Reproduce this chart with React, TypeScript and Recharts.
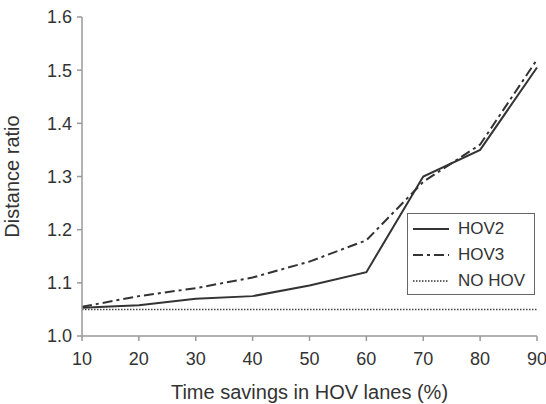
import { LineChart, Line, XAxis, YAxis, Legend } from "recharts";

const savings = [10, 20, 30, 40, 50, 60, 70, 80, 90];
const hov2 = [1.053, 1.058, 1.07, 1.075, 1.095, 1.12, 1.3, 1.35, 1.505];
const hov3 = [1.055, 1.075, 1.09, 1.11, 1.14, 1.18, 1.29, 1.36, 1.52];
const noHov = [1.05, 1.05, 1.05, 1.05, 1.05, 1.05, 1.05, 1.05, 1.05];
const xTicks = [10, 20, 30, 40, 50, 60, 70, 80, 90];
const yTicks = [1.0, 1.1, 1.2, 1.3, 1.4, 1.5, 1.6];

const data = savings.map((s, i) => ({
	savings: s,
	hov2: hov2[i],
	hov3: hov3[i],
	noHov: noHov[i],
}));

const legendItems = [
	{ name: "HOV2", dash: undefined, width: 2 },
	{ name: "HOV3", dash: "10 4 3 4", width: 2 },
	{ name: "NO HOV", dash: "1.5 1.5", width: 1.5 },
];

const ChartLegend = () => (
	<div
		style={{
			border: "1.5px solid #666",
			background: "#fff",
			width: 128,
			height: 82,
			boxSizing: "border-box",
			padding: "2px 0 0 4px",
		}}
	>
		{legendItems.map((it) => (
			<div
				key={it.name}
				style={{ display: "flex", alignItems: "center", height: 26 }}
			>
				<svg width={40} height={10}>
					<line
						x1={1}
						y1={5}
						x2={37}
						y2={5}
						stroke="#333"
						strokeWidth={it.width}
						strokeDasharray={it.dash}
					/>
				</svg>
				<span
					style={{
						fontFamily: "Liberation Sans",
						fontSize: 17,
						color: "#333",
						marginLeft: 6,
					}}
				>
					{it.name}
				</span>
			</div>
		))}
	</div>
);

const App = () => {
	return (
		<div style={{ position: "absolute", left: 0, top: 0 }}>
			<LineChart
				width={546}
				height={404}
				data={data}
				margin={{ top: 17, right: 9, bottom: 0, left: 0 }}
				style={{ fontFamily: "Liberation Sans", background: "#fff" }}
			>
				<XAxis
					dataKey="savings"
					type="number"
					domain={[10, 90]}
					ticks={xTicks}
					height={68}
					stroke="#999"
					strokeWidth={1.5}
					tickSize={5}
					tickMargin={11}
					tick={{ fill: "#333", fontSize: 18 }}
					label={{
						value: "Time savings in HOV lanes (%)",
						position: "insideBottom",
						offset: 5,
						fill: "#333",
						fontSize: 20,
					}}
				/>
				<YAxis
					type="number"
					domain={[1.0, 1.6]}
					ticks={yTicks}
					width={82}
					stroke="#999"
					strokeWidth={1.5}
					tickSize={5}
					tickMargin={5}
					tickFormatter={(v: number) => v.toFixed(1)}
					tick={{ fill: "#333", fontSize: 18 }}
					label={{
						value: "Distance ratio",
						angle: -90,
						position: "insideLeft",
						offset: 12,
						fill: "#333",
						fontSize: 20,
						style: { textAnchor: "middle" },
					}}
				/>
				<Legend
					layout="horizontal"
					align="center"
					verticalAlign="middle"
					content={() => <ChartLegend />}
					wrapperStyle={{ left: 407, top: 213, width: 130 }}
				/>
				<Line
					dataKey="noHov"
					name="NO HOV"
					stroke="#444"
					strokeWidth={1.5}
					strokeDasharray="1.5 1.5"
					dot={false}
					isAnimationActive={false}
				/>
				<Line
					dataKey="hov3"
					name="HOV3"
					stroke="#333"
					strokeWidth={2}
					strokeDasharray="10 4 3 4"
					dot={false}
					isAnimationActive={false}
				/>
				<Line
					dataKey="hov2"
					name="HOV2"
					stroke="#333"
					strokeWidth={2}
					dot={false}
					isAnimationActive={false}
				/>
			</LineChart>
		</div>
	);
};

export default App;
